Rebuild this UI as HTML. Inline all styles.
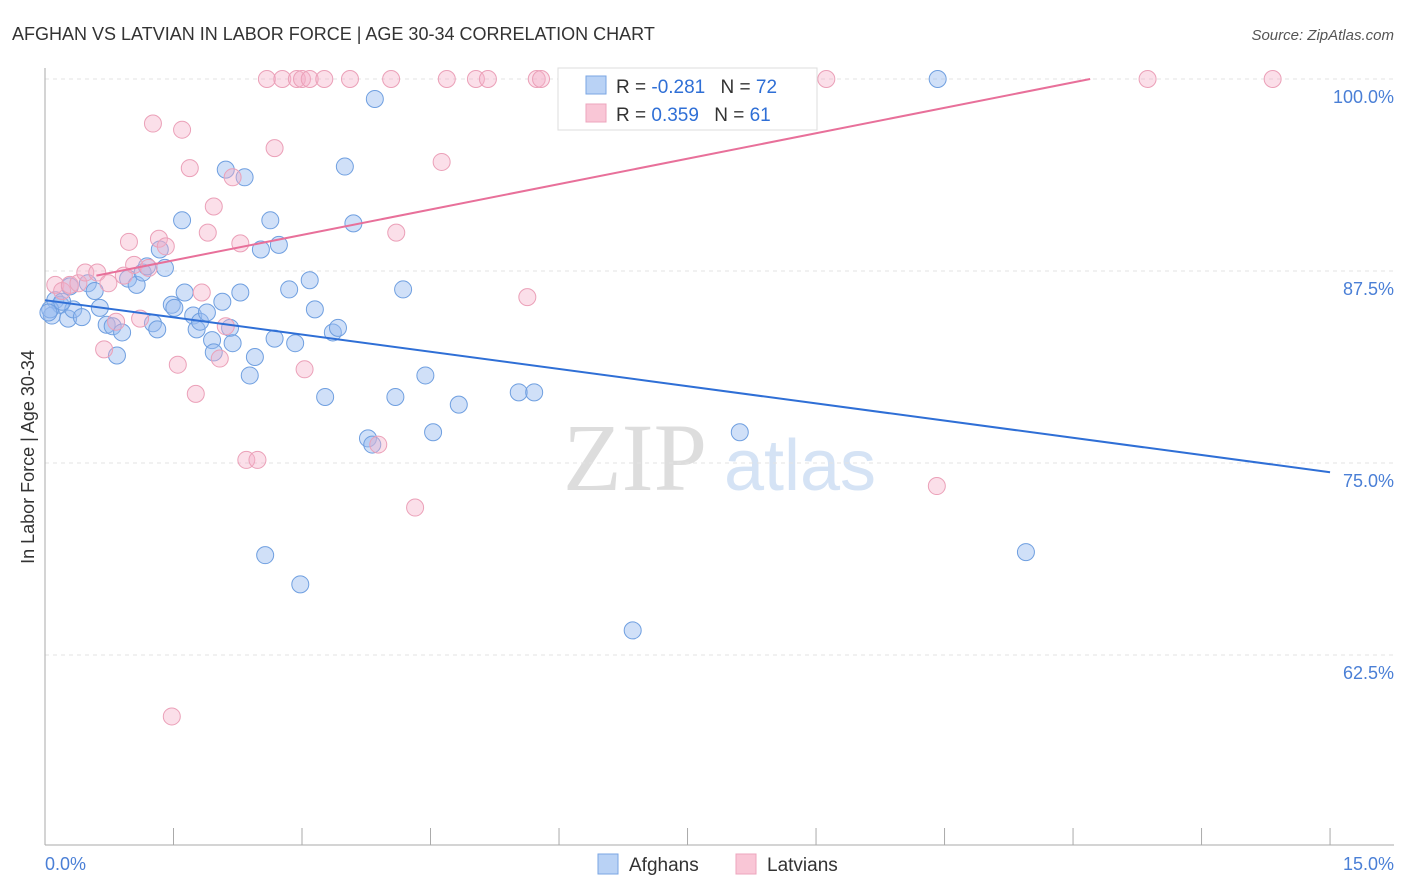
<!DOCTYPE html>
<html><head><meta charset="utf-8"><style>
body{margin:0;background:#fff;font-family:"Liberation Sans",sans-serif}
svg{display:block}
</style></head><body>
<svg id="c" width="1406" height="892" viewBox="0 0 1406 892">
<text x="12" y="40" font-size="18" fill="#333">AFGHAN VS LATVIAN IN LABOR FORCE | AGE 30-34 CORRELATION CHART</text>
<text x="1394" y="40" font-size="15" fill="#555" font-style="italic" text-anchor="end">Source: ZipAtlas.com</text>
<g><text x="635" y="490" font-size="96" fill="#ddd" font-family="Liberation Serif,serif" text-anchor="middle">ZIP</text><text x="800" y="490" font-size="72" fill="#d5e3f5" text-anchor="middle">atlas</text></g>
<g id="grid"></g><g id="axes"></g><g id="marks"></g><g id="lines"></g>
<text transform="translate(34,457) rotate(-90)" font-size="18" fill="#333" text-anchor="middle">In Labor Force | Age 30-34</text>
<text x="45" y="870" font-size="18" fill="#4a7fd6">0.0%</text>
<text x="1394" y="870" font-size="18" fill="#4a7fd6" text-anchor="end">15.0%</text>
<g>
<rect x="558" y="68" width="259" height="62" fill="#fff" stroke="#ddd"/>
<rect x="586" y="76" width="20" height="18" fill="#b9d2f5" stroke="#7aa6e3"/>
<rect x="586" y="104" width="20" height="18" fill="#f9c6d6" stroke="#eda5bd"/>
<text x="616" y="93" font-size="19" fill="#333">R = <tspan fill="#2f6fd6">-0.281</tspan>  <tspan dx="10">N = </tspan><tspan fill="#2f6fd6">72</tspan></text>
<text x="616" y="121" font-size="19" fill="#333">R =  <tspan fill="#2f6fd6">0.359</tspan>  <tspan dx="10">N = </tspan><tspan fill="#2f6fd6"> 61</tspan></text>
</g>
<g>
<rect x="598" y="854" width="20" height="20" fill="#b9d2f5" stroke="#7aa6e3"/>
<text x="629" y="871" font-size="19" fill="#333">Afghans</text>
<rect x="736" y="854" width="20" height="20" fill="#f9c6d6" stroke="#eda5bd"/>
<text x="767" y="871" font-size="19" fill="#333">Latvians</text>
</g>
</svg>
<script>
const xTicks=[0,1.5,3,4.5,6,7.5,9,10.5,12,13.5,15];
const yTicks=[100,87.5,75,62.5];
const yTickLabels=["100.0%","87.5%","75.0%","62.5%"];
const afghanX=[0.08,0.12,0.18,0.27,0.33,0.43,0.50,0.58,0.64,0.72,0.79,0.90,0.84,0.97,1.07,1.14,1.19,1.26,1.31,1.34,1.40,1.48,1.51,1.60,1.63,1.73,1.77,1.81,1.89,1.95,1.97,2.07,2.11,2.16,2.19,2.28,2.33,2.39,2.45,2.52,2.57,2.63,2.68,2.73,2.85,2.92,2.98,3.09,3.15,3.27,3.36,3.42,3.50,3.60,3.77,3.82,3.85,4.09,4.18,4.44,4.53,4.83,5.53,5.71,6.86,8.11,10.42,11.45,0.06,0.29,0.20,0.04];
const afghanY=[84.6,85.6,85.3,84.4,85.0,84.5,86.7,86.2,85.1,84.0,83.9,83.5,82.0,87.0,86.6,87.4,87.8,84.1,83.7,88.9,87.7,85.3,85.1,90.8,86.1,84.6,83.7,84.2,84.8,83.0,82.2,85.5,94.1,83.8,82.8,86.1,93.6,80.7,81.9,88.9,69.0,90.8,83.1,89.2,86.3,82.8,67.1,86.9,85.0,79.3,83.5,83.8,94.3,90.6,76.6,76.2,98.7,79.3,86.3,80.7,77.0,78.8,79.6,79.6,64.1,77.0,100,69.2,85.0,86.5,85.5,84.8];
const latvianX=[2.59,2.77,2.94,3.0,3.09,3.26,3.56,4.04,4.69,5.03,5.17,5.74,5.79,6.10,7.97,9.12,12.87,14.33,0.12,0.20,0.29,0.39,0.47,0.61,0.74,0.83,0.69,0.92,0.98,1.04,1.11,1.21,1.26,1.33,1.41,1.55,1.60,1.69,1.76,1.83,1.90,1.97,2.04,2.11,2.19,2.28,2.35,2.48,2.68,3.03,3.89,4.10,4.32,4.63,5.63,10.41,1.48];
const latvianY=[100,100,100,100,100,100,100,100,100,100,100,100,100,100,100,100,100,100,86.6,86.2,86.6,86.7,87.4,87.4,86.7,84.2,82.4,87.2,89.4,87.9,84.4,87.7,97.1,89.6,89.1,81.4,96.7,94.2,79.5,86.1,90.0,91.7,81.8,83.9,93.6,89.3,75.2,75.2,95.5,81.1,76.2,90.0,72.1,94.6,85.8,73.5,58.5];
const afghanLineX=[0,15],afghanLineY=[85.6,74.4];
const latvianLineX=[0.6,12.2],latvianLineY=[87.2,100];
const X=v=>45+v*85.67, Y=v=>79+(100-v)*15.36;
const NS="http://www.w3.org/2000/svg";
function mk(p,t,a){const e=document.createElementNS(NS,t);for(const k in a)e.setAttribute(k,a[k]);document.getElementById(p).appendChild(e);return e;}
yTicks.forEach((t,i)=>{
 const g=mk('grid','line',{x1:45,x2:1394,y1:Y(t),y2:Y(t),stroke:'#e3e3e3','stroke-dasharray':'4,4'});
 
 
 const l=mk('grid','text',{x:1394,y:Y(t)+24,'font-size':18,fill:'#4a7fd6','text-anchor':'end'});
 l.textContent=yTickLabels[i];
 
 
});
const ax=mk('axes','line',{x1:45,x2:45,y1:68,y2:845,stroke:'#aaa'});


const bx=mk('axes','line',{x1:45,x2:1394,y1:845,y2:845,stroke:'#aaa'});


xTicks.forEach(t=>{
 const k=mk('axes','line',{x1:X(t),x2:X(t),y1:828,y2:845,stroke:'#aaa'});
 
 
});
afghanX.forEach((v,i)=>{
 const c=mk('marks','circle',{cx:X(v),cy:Y(afghanY[i]),r:8.5,fill:'rgba(150,187,240,0.45)',stroke:'#6f9fe0','stroke-width':1});
 
 
});
latvianX.forEach((v,i)=>{
 const c=mk('marks','circle',{cx:X(v),cy:Y(latvianY[i]),r:8.5,fill:'rgba(245,175,200,0.4)',stroke:'#eba0b8','stroke-width':1});
 
 
});
const bl=mk('lines','line',{x1:X(afghanLineX[0]),y1:Y(afghanLineY[0]),x2:X(afghanLineX[1]),y2:Y(afghanLineY[1]),stroke:'#2f6fd6','stroke-width':2});


const pl=mk('lines','line',{x1:X(latvianLineX[0]),y1:Y(latvianLineY[0]),x2:X(latvianLineX[1]),y2:Y(latvianLineY[1]),stroke:'#e8709a','stroke-width':2});


</script>
</body></html>
